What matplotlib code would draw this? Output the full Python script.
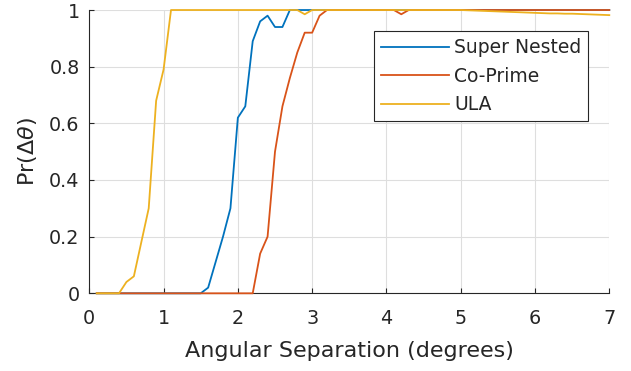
import matplotlib
matplotlib.use("Agg")
import matplotlib.pyplot as plt

# Angular separation grid (degrees)
angles = [0.1, 0.2, 0.3, 0.4, 0.5, 0.6, 0.7, 0.8, 0.9, 1.0,
          1.1, 1.2, 1.3, 1.4, 1.5, 1.6, 1.7, 1.8, 1.9, 2.0,
          2.1, 2.2, 2.3, 2.4, 2.5, 2.6, 2.7, 2.8, 2.9, 3.0,
          3.1, 3.2, 3.3, 3.4, 3.5, 3.6, 3.7, 3.8, 3.9, 4.0,
          4.1, 4.2, 4.3, 4.4, 4.5, 4.6, 4.7, 4.8, 4.9, 5.0,
          5.1, 5.2, 5.3, 5.4, 5.5, 5.6, 5.7, 5.8, 5.9, 6.0,
          6.1, 6.2, 6.3, 6.4, 6.5, 6.6, 6.7, 6.8, 6.9, 7.0]

super_nested = [0, 0, 0, 0, 0, 0, 0, 0, 0, 0,
                0, 0, 0, 0, 0, 0.02, 0.11, 0.20, 0.30, 0.62,
                0.66, 0.89, 0.96, 0.98, 0.94, 0.94, 1, 1, 1, 1,
                1, 1, 1, 1, 1, 1, 1, 1, 1, 1,
                1, 1, 1, 1, 1, 1, 1, 1, 1, 1,
                1, 1, 1, 1, 1, 1, 1, 1, 1, 1,
                1, 1, 1, 1, 1, 1, 1, 1, 1, 1]

co_prime = [0, 0, 0, 0, 0, 0, 0, 0, 0, 0,
            0, 0, 0, 0, 0, 0, 0, 0, 0, 0,
            0, 0, 0.14, 0.20, 0.50, 0.66, 0.76, 0.85, 0.92, 0.92,
            0.98, 1, 1, 1, 1, 1, 1, 1, 1, 1,
            1, 0.985, 1, 1, 1, 1, 1, 1, 1, 1,
            1, 1, 1, 1, 1, 1, 1, 1, 1, 1,
            1, 1, 1, 1, 1, 1, 1, 1, 1, 1]

ula = [0, 0, 0, 0, 0.04, 0.06, 0.18, 0.30, 0.68, 0.79,
       1, 1, 1, 1, 1, 1, 1, 1, 1, 1,
       1, 1, 1, 1, 1, 1, 1, 1, 0.985, 1,
       1, 1, 1, 1, 1, 1, 1, 1, 1, 1,
       1, 1, 1, 1, 1, 1, 1, 1, 1, 1,
       0.999, 0.998, 0.997, 0.996, 0.995, 0.994, 0.993, 0.992, 0.991, 0.990,
       0.989, 0.988, 0.988, 0.987, 0.987, 0.986, 0.985, 0.984, 0.983, 0.982]

series_labels = ["Super Nested", "Co-Prime", "ULA"]
series_colors = ["#0072BD", "#D95319", "#EDB120"]
x_ticks = [0, 1, 2, 3, 4, 5, 6, 7]
y_ticks = [0, 0.2, 0.4, 0.6, 0.8, 1]
y_tick_labels = ["0", "0.2", "0.4", "0.6", "0.8", "1"]

axis_color = "#262626"

fig = plt.figure(figsize=(6.31, 3.71), dpi=100)
ax = fig.add_axes([0.1415, 0.2094, 0.8241, 0.7636])

for vals, lab, col in zip([super_nested, co_prime, ula], series_labels, series_colors):
    ax.plot(angles, vals, color=col, lw=1.3, label=lab, clip_on=False, zorder=3)

ax.set_xlim(0, 7)
ax.set_ylim(0, 1)
ax.set_xticks(x_ticks)
ax.set_yticks(y_ticks)
ax.set_yticklabels(y_tick_labels)

ax.grid(True, color="#dedede", lw=0.8)
ax.set_axisbelow(True)
for s in ["top", "right"]:
    ax.spines[s].set_visible(False)
for s in ["left", "bottom"]:
    ax.spines[s].set_color(axis_color)
    ax.spines[s].set_linewidth(0.8)

ax.tick_params(axis="both", direction="in", length=3.6, width=0.8,
               colors=axis_color, labelsize=13.8)
ax.tick_params(axis="x", pad=11)
ax.tick_params(axis="y", pad=7)

ax.set_xlabel("Angular Separation (degrees)", fontsize=16, color=axis_color, labelpad=10)
ax.set_ylabel(r"Pr($\Delta\theta$)", fontsize=16, color=axis_color, labelpad=7)

leg = ax.legend(loc="upper right", bbox_to_anchor=(0.9598, 0.9248), borderaxespad=0,
                fontsize=13.5, handlelength=3.6, handletextpad=0.27, labelspacing=0.5,
                borderpad=0.38, fancybox=False, framealpha=1, edgecolor=axis_color)
leg.get_frame().set_linewidth(0.8)
for t in leg.get_texts():
    t.set_color(axis_color)

fig.savefig("out.png", dpi=100)
